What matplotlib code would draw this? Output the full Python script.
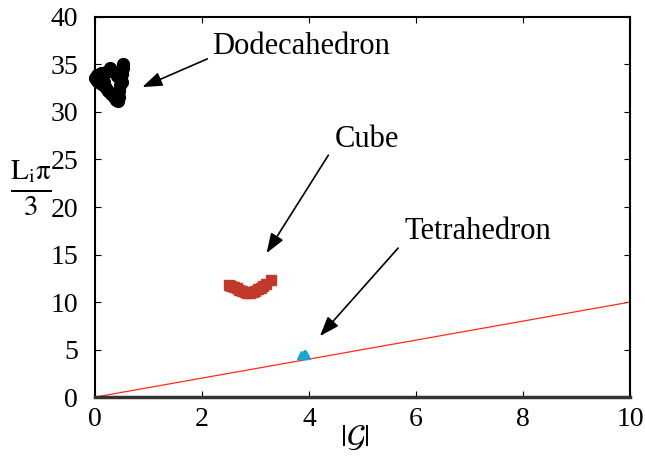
import matplotlib
matplotlib.use('Agg')
import matplotlib.pyplot as plt

plt.rcParams['font.family'] = ['Liberation Serif', 'DejaVu Serif']
plt.rcParams['mathtext.fontset'] = 'stix'

# dodecahedron cluster
dodeca_x = [0.0, 0.05, 0.1, 0.15, 0.2, 0.25, 0.3, 0.35, 0.4, 0.43,
            0.45, 0.46, 0.47, 0.48, 0.5, 0.52, 0.53,
            0.05, 0.12, 0.2, 0.28, 0.35, 0.1, 0.18, 0.42, 0.5]
dodeca_y = [33.6, 33.3, 33.0, 32.8, 32.5, 32.2, 31.9, 31.6, 31.3, 31.2,
            31.6, 32.2, 32.8, 33.4, 34.0, 34.6, 35.0,
            33.9, 34.1, 34.2, 34.6, 34.2, 33.4, 33.1, 33.8, 33.2]

# cube cluster
cube_x = [2.5, 2.55, 2.6, 2.65, 2.7, 2.75, 2.8, 2.85, 2.9, 2.95, 3.0, 3.05, 3.1, 3.15, 3.2, 3.3]
cube_y = [11.8, 11.7, 11.6, 11.5, 11.3, 11.2, 11.1, 11.0, 11.0, 11.1, 11.2, 11.4, 11.5, 11.7, 11.9, 12.3]

# tetrahedron cluster
tetra_x = [3.86, 3.9, 3.94, 3.92]
tetra_y = [4.4, 4.55, 4.4, 4.5]

line_x = [0, 10]
line_y = [0, 10]

fig = plt.figure(figsize=(6.45, 4.57), dpi=100)
ax = fig.add_axes([0.147, 0.131, 0.83, 0.832])

ax.plot(line_x, line_y, color='#ff2a1a', lw=0.9)
ax.plot(dodeca_x, dodeca_y, 'o', color='black', ms=8.5, clip_on=False)
ax.plot(cube_x, cube_y, 's', color='#c0392b', ms=7.5)
ax.plot(tetra_x, tetra_y, '^', color='#1aa3d4', ms=6)

ax.set_xlim(0, 10)
ax.set_ylim(0, 40)
ax.set_xticks([0, 2, 4, 6, 8, 10])
ax.set_yticks([0, 5, 10, 15, 20, 25, 30, 35, 40])
ax.tick_params(direction='in', length=4, labelsize=20, top=True, right=True)
ax.tick_params(axis='y', pad=12)
ax.tick_params(axis='x', pad=7)
for s in ax.spines.values():
    s.set_linewidth(1.5)
ax.spines['bottom'].set_linewidth(2.5)
ax.spines['bottom'].set_color('#333333')

ax.set_xlabel(r'$|\mathcal{G}|$', fontsize=22)
ax.xaxis.set_label_coords(0.486, -0.108)
ax.xaxis.label.set_va('center')
ax.set_ylabel(r'$\frac{\mathrm{L_i}\mathrm{\pi}}{3}$', fontsize=30, rotation=0, va='center')
ax.yaxis.set_label_coords(-0.12, 0.55)

arr = dict(arrowstyle='-|>,head_length=0.5,head_width=0.18', color='black', lw=1.2, mutation_scale=24)
ax.annotate('', xy=(0.84, 32.5), xytext=(2.15, 35.7), arrowprops=arr)
ax.annotate('', xy=(3.18, 14.9), xytext=(4.39, 25.7), arrowprops=arr)
ax.annotate('', xy=(4.17, 6.2), xytext=(5.7, 15.9), arrowprops=arr)
ax.text(2.19, 36.9, 'Dodecahedron', fontsize=22, va='center', ha='left')
ax.text(4.49, 27.1, 'Cube', fontsize=22, va='center', ha='left')
ax.text(5.79, 17.4, 'Tetrahedron', fontsize=22, va='center', ha='left')

fig.savefig('out.png', dpi=100)
